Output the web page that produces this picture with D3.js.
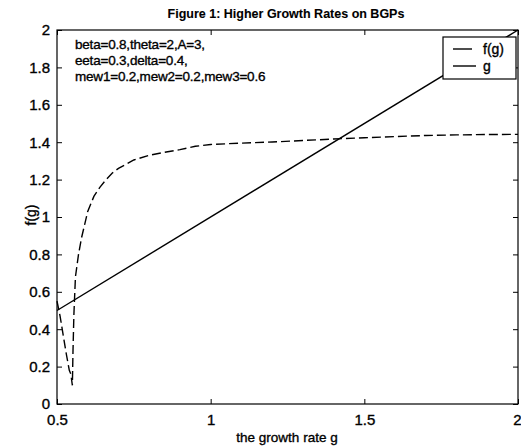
<!DOCTYPE html>
<html>
<head>
<meta charset="utf-8">
<script src="https://cdn.jsdelivr.net/npm/d3@7"></script>
<style>
  body { margin: 0; background: #fff; }
  text { font-family: "Liberation Sans", Arial, sans-serif; fill: #000; stroke: #000; stroke-width: 0.35px; }
</style>
</head>
<body>
<div id="chart"></div>
<script>
// growth rate g and f(g)
const gValues = [0.5, 0.51, 0.52, 0.53, 0.54, 0.545, 0.55, 0.552, 0.555, 0.56, 0.57, 0.58,
  0.6, 0.62, 0.64, 0.66, 0.68, 0.7, 0.75, 0.8, 0.85, 0.9, 0.95, 1.0, 1.1, 1.2, 1.3,
  1.4, 1.5, 1.6, 1.7, 1.8, 1.9, 2.0];
const fValues = [0.55, 0.47, 0.37, 0.27, 0.18, 0.16, 0.10, 0.28, 0.48, 0.68, 0.80, 0.89,
  1.03, 1.11, 1.16, 1.20, 1.235, 1.26, 1.305, 1.33, 1.346, 1.36, 1.378, 1.388, 1.395,
  1.401, 1.409, 1.417, 1.424, 1.43, 1.436, 1.439, 1.441, 1.442];
// the 45 degree line g
const lineG = [0.5, 2.0];

const xTicks = [0.5, 1, 1.5, 2];
const yTicks = [0, 0.2, 0.4, 0.6, 0.8, 1, 1.2, 1.4, 1.6, 1.8, 2];
const legendLabels = ["f(g)", "g"];
const noteLines = [
  "beta=0.8,theta=2,A=3,",
  "eeta=0.3,delta=0.4,",
  "mew1=0.2,mew2=0.2,mew3=0.6"
];

const margin = { top: 30, right: 3, bottom: 42, left: 57 },
  width = 521 - margin.left - margin.right,
  height = 446 - margin.top - margin.bottom;

const svg = d3
  .select("#chart")
  .append("svg")
  .attr("width", 521)
  .attr("height", 446);

const g = svg
  .append("g")
  .attr("transform", "translate(" + margin.left + "," + margin.top + ")");

const x = d3.scaleLinear().domain([0.5, 2]).range([0, width]);
const y = d3.scaleLinear().domain([0, 2]).range([height, 0]);

// title
svg
  .append("text")
  .attr("x", 286)
  .attr("y", 18)
  .attr("text-anchor", "middle")
  .style("font-size", "12.5px")
  .style("font-weight", "bold")
  .style("stroke-width", "0.1px")
  .text("Figure 1: Higher Growth Rates on BGPs");

const line = d3
  .line()
  .x(function (d) { return x(d[0]); })
  .y(function (d) { return y(d[1]); });

// f(g) dashed
g.append("path")
  .datum(gValues.map(function (v, i) { return [v, fValues[i]]; }))
  .attr("d", line)
  .attr("fill", "none")
  .attr("stroke", "#000")
  .attr("stroke-width", 1.4)
  .attr("stroke-dasharray", "9,4");

// g solid
g.append("path")
  .datum(lineG.map(function (v) { return [v, v]; }))
  .attr("d", line)
  .attr("fill", "none")
  .attr("stroke", "#000")
  .attr("stroke-width", 1.4);

// axes with inward ticks (matlab style)
const axisStyle = function (sel) {
  sel.select(".domain").remove();
  sel.selectAll("text").style("font-size", "15px").attr("fill", "#000");
  sel.selectAll("line").attr("stroke", "#000");
};

g.append("g")
  .attr("transform", "translate(0," + height + ")")
  .call(d3.axisBottom(x).tickValues(xTicks).tickSize(-5).tickPadding(10)
    .tickFormat(d3.format("")))
  .call(axisStyle)
  .selectAll(".tick text")
  .filter(function (d) { return d === 2; })
  .attr("text-anchor", "end")
  .attr("dx", 3);

g.append("g")
  .call(d3.axisTop(x).tickValues(xTicks).tickSize(-5).tickFormat(""))
  .call(axisStyle);

g.append("g")
  .call(d3.axisLeft(y).tickValues(yTicks).tickSize(-5).tickPadding(7)
    .tickFormat(d3.format("")))
  .call(axisStyle);

g.append("g")
  .attr("transform", "translate(" + width + ",0)")
  .call(d3.axisRight(y).tickValues(yTicks).tickSize(-5).tickFormat(""))
  .call(axisStyle);

// frame
g.append("rect")
  .attr("width", width)
  .attr("height", height)
  .attr("fill", "none")
  .attr("stroke", "#000")
  .attr("stroke-width", 1.2);

// axis labels
svg
  .append("text")
  .attr("x", 287)
  .attr("y", 442)
  .attr("text-anchor", "middle")
  .style("font-size", "13.5px")
  .text("the growth rate g");

svg
  .append("text")
  .attr("transform", "translate(36,215) rotate(-90)")
  .attr("text-anchor", "middle")
  .style("font-size", "14px")
  .text("f(g)");

// parameter note
g.selectAll(".note")
  .data(noteLines)
  .enter()
  .append("text")
  .attr("class", "note")
  .attr("x", 18)
  .attr("y", function (d, i) { return 19 + i * 16; })
  .style("font-size", "13.5px")
  .style("letter-spacing", "-0.2px")
  .text(function (d) { return d; });

// legend
const legend = svg.append("g").attr("transform", "translate(443,37)");
legend
  .append("rect")
  .attr("width", 73)
  .attr("height", 42)
  .attr("fill", "#fff")
  .attr("stroke", "#000")
  .attr("stroke-width", 1.2);

legendLabels.forEach(function (lab, i) {
  legend
    .append("line")
    .attr("x1", 10)
    .attr("x2", i === 0 ? 29 : 33)
    .attr("y1", 12 + i * 17)
    .attr("y2", 12 + i * 17)
    .attr("stroke", "#000")
    .attr("stroke-width", 1.4);
  legend
    .append("text")
    .attr("x", 40)
    .attr("y", 17 + i * 17)
    .style("font-size", "14px")
    .text(lab);
});
</script>
</body>
</html>
